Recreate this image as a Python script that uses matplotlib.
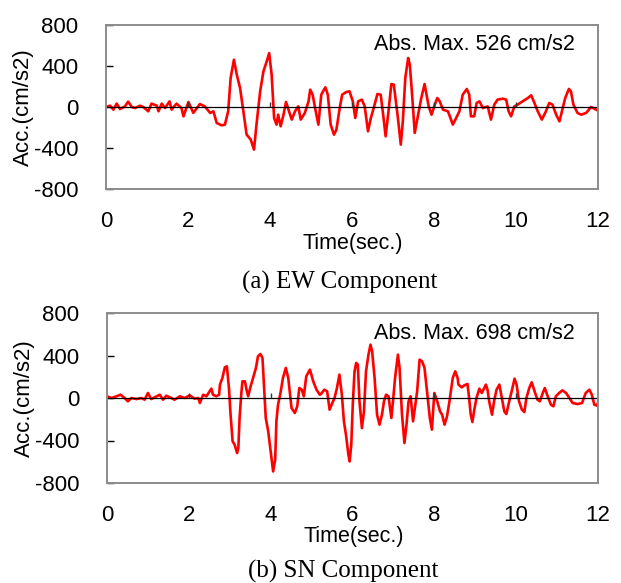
import numpy as np
import matplotlib
matplotlib.use('Agg')
import matplotlib.pyplot as plt

plt.rcParams['font.family'] = ['Liberation Sans', 'DejaVu Sans']

# EW component
ew_t = [0.0, 0.1, 0.18, 0.26, 0.34, 0.46, 0.54, 0.63, 0.71, 0.83, 0.91, 1.03, 1.11, 1.24,
        1.28, 1.36, 1.44, 1.55, 1.60, 1.72, 1.84, 1.89, 2.01, 2.13, 2.29, 2.41, 2.54, 2.62,
        2.70, 2.82, 2.90, 2.98, 3.04, 3.12, 3.19, 3.27, 3.35, 3.43, 3.53, 3.61, 3.67, 3.76,
        3.84, 3.92, 3.98, 4.04, 4.10, 4.16, 4.20, 4.26, 4.33, 4.39, 4.45, 4.53, 4.61, 4.69,
        4.75, 4.85, 4.94, 4.98, 5.04, 5.10, 5.18, 5.25, 5.35, 5.41, 5.48, 5.56, 5.62, 5.70,
        5.76, 5.86, 5.94, 5.98, 6.02, 6.08, 6.15, 6.24, 6.31, 6.39, 6.46, 6.54, 6.62, 6.70,
        6.76, 6.82, 6.89, 6.96, 7.02, 7.12, 7.19, 7.24, 7.30, 7.37, 7.41, 7.46, 7.53, 7.59,
        7.69, 7.77, 7.81, 7.87, 7.94, 8.02, 8.08, 8.14, 8.22, 8.34, 8.46, 8.54, 8.62, 8.70,
        8.80, 8.86, 8.90, 8.98, 9.04, 9.11, 9.19, 9.31, 9.39, 9.47, 9.55, 9.68, 9.76, 9.82,
        9.88, 9.96, 10.04, 10.16, 10.29, 10.37, 10.45, 10.53, 10.63, 10.73, 10.81, 10.89,
        10.98, 11.06, 11.12, 11.20, 11.29, 11.34, 11.40, 11.50, 11.59, 11.71, 11.83, 11.91,
        12.03]
ew_acc = [0, 13, -26, 33, -20, 5, 52, 0, -10, 13, 0, -42, 33, 13,
          -42, 33, -10, 55, -26, 33, -10, -91, 49, -58, 29, 6, -58, -42,
          -156, -179, -172, -42, 283, 461, 315, 185, -42, -270, -318, -416, -172, 153,
          348, 445, 526, 315, -107, -172, -75, -188, -75, 49, -26, -123, -42, 6,
          -123, -58, 55, 169, 120, -10, -172, 120, 192, 120, -172, -270, -221, -10,
          120, 146, 153, 104, 55, -107, 55, 72, 6, -237, -107, 6, 127, 120,
          -75, -286, -42, 224, 218, -107, -367, -140, 283, 478, 413, 153, -253, -123,
          88, 224, 137, 6, -75, 23, 88, 55, -26, -42, -172, -107, -42, 120,
          176, 120, -91, -91, 39, 55, -10, 6, -123, 23, 72, 81, 72, -42,
          -91, 6, 23, 55, 88, 114, 39, -42, -123, -42, 39, 23,
          -75, -140, -42, 88, 176, 153, 23, -58, -75, -58, 0, -16,
          -42]

# SN component
sn_t = [0.0, 0.11, 0.23, 0.33, 0.43, 0.51, 0.60, 0.72, 0.84, 0.92, 1.00, 1.08, 1.21, 1.29,
        1.37, 1.45, 1.57, 1.65, 1.78, 1.90, 2.02, 2.14, 2.23, 2.27, 2.35, 2.43, 2.51, 2.55,
        2.59, 2.67, 2.74, 2.76, 2.82, 2.88, 2.93, 2.98, 3.02, 3.07, 3.12, 3.18, 3.21, 3.24,
        3.28, 3.31, 3.37, 3.41, 3.45, 3.51, 3.57, 3.64, 3.69, 3.75, 3.80, 3.84, 3.88, 3.94,
        3.99, 4.06, 4.11, 4.14, 4.18, 4.24, 4.30, 4.37, 4.43, 4.47, 4.51, 4.59, 4.65, 4.70,
        4.76, 4.81, 4.87, 4.96, 5.04, 5.12, 5.20, 5.23, 5.31, 5.38, 5.44, 5.49, 5.56, 5.62,
        5.68, 5.74, 5.79, 5.84, 5.90, 5.93, 5.97, 6.01, 6.05, 6.09, 6.13, 6.17, 6.23, 6.28,
        6.33, 6.39, 6.44, 6.48, 6.54, 6.60, 6.66, 6.72, 6.77, 6.82, 6.88, 6.95, 6.99, 7.04,
        7.11, 7.15, 7.21, 7.27, 7.32, 7.37, 7.42, 7.48, 7.53, 7.58, 7.64, 7.70, 7.76, 7.83,
        7.89, 7.94, 8.00, 8.07, 8.14, 8.19, 8.25, 8.31, 8.37, 8.45, 8.51, 8.57, 8.59, 8.67,
        8.73, 8.81, 8.85, 8.89, 8.93, 8.97, 9.03, 9.10, 9.16, 9.26, 9.30, 9.34, 9.41, 9.46,
        9.52, 9.59, 9.65, 9.71, 9.76, 9.83, 9.90, 9.96, 10.01, 10.07, 10.14, 10.20, 10.25,
        10.32, 10.38, 10.45, 10.52, 10.58, 10.65, 10.70, 10.77, 10.85, 10.91, 10.97, 11.05,
        11.13, 11.22, 11.30, 11.38, 11.50, 11.61, 11.70, 11.79, 11.85, 11.91, 11.97, 12.03]
sn_acc = [16, 0, 16, 31, 0, -31, 0, -10, 0, -16, 47, -10, 16, 31,
          -16, 22, 0, -16, 16, 0, 25, -6, 0, -47, 31, 16, 63, 88,
          31, 16, 31, 126, 188, 289, 298, 94, -157, -408, -440, -518, -471, -188,
          31, 157, 157, 78, 16, 110, 188, 283, 393, 414, 377, 94, -188, -314,
          -471, -691, -581, -220, -63, 47, 188, 283, 188, 47, -94, -141, -78, 94,
          78, 16, 204, 267, 157, 78, 31, 38, 78, 63, -110, -63, 0, 94,
          220, 31, -220, -345, -534, -597, -440, -31, 251, 330, 314, -31, -283, -126,
          251, 408, 502, 440, 188, -157, -251, -157, -31, 31, 16, -188, -31, 188,
          408, 283, -157, -424, -251, -31, 16, -220, -78, 63, 361, 345, 283, 31,
          -188, -298, 47, -31, -126, -157, -251, -173, -31, 188, 251, 188, 126, 100,
          119, 132, 0, -157, -226, -126, 0, 88, 47, 126, 78, -31, -157, -31,
          78, 126, 0, -126, -151, -31, 78, 182, 126, -31, -110, -132, 0,
          94, 148, 63, -16, -31, 47, 94, 16, -63, -78, 16, 47,
          72, 47, 0, -47, -57, -47, 47, 78, 31, -63, -72, -16]

x_ticks = [0, 2, 4, 6, 8, 10, 12]
y_ticks = [-800, -400, 0, 400, 800]

fig = plt.figure(figsize=(6.21, 5.83), dpi=100)
W, H = 621, 583


def make_axes(left, top, right, bottom):
    return fig.add_axes([left / W, 1 - bottom / H, (right - left) / W, (bottom - top) / H])


def draw_panel(ax, t, acc, peak, label_y):
    ax.plot(t, acc, color='#ff0000', lw=1.9, clip_on=True)
    ax.axhline(0, color='black', lw=0.9)
    ax.set_xlim(0, 12)
    ax.set_ylim(-800, 800)
    ax.set_xticks(x_ticks)
    ax.set_yticks(y_ticks)
    ax.set_xticklabels([str(v) for v in x_ticks])
    ax.set_yticklabels([str(v) for v in y_ticks])
    ax.tick_params(axis='x', length=0, pad=16, labelsize=16)
    ax.tick_params(axis='y', direction='in', length=5, width=1, pad=20, labelsize=16)
    # small x tick marks standing on the zero line
    ax.vlines(x_ticks[1:-1], 0, 45, colors='#333333', lw=1)
    for s in ax.spines.values():
        s.set_color('#8c8c8c')
        s.set_linewidth(1.4)
    ax.set_ylabel('Acc.(cm/s2)', fontsize=16, va='center')
    ax.yaxis.set_label_coords(-0.168, 0.5)
    ax.set_xlabel('Time(sec.)', fontsize=15.5, va='center')
    ax.xaxis.set_label_coords(0.502, label_y)
    ax.text(0.953, 0.88, 'Abs. Max. %d cm/s2' % peak, transform=ax.transAxes,
            ha='right', va='center', fontsize=15.5)


ax1 = make_axes(106, 25, 598, 189)
draw_panel(ax1, ew_t, ew_acc, 526, -0.33)
ax2 = make_axes(107, 313, 598, 483)
draw_panel(ax2, sn_t, sn_acc, 698, -0.315)

fig.text(340 / W, 1 - 282 / H, '(a) EW Component', ha='center', va='center',
         fontsize=18, family='Liberation Serif')
fig.text(343 / W, 1 - 571 / H, '(b) SN Component', ha='center', va='center',
         fontsize=18, family='Liberation Serif')

fig.savefig('out.png', dpi=100)
